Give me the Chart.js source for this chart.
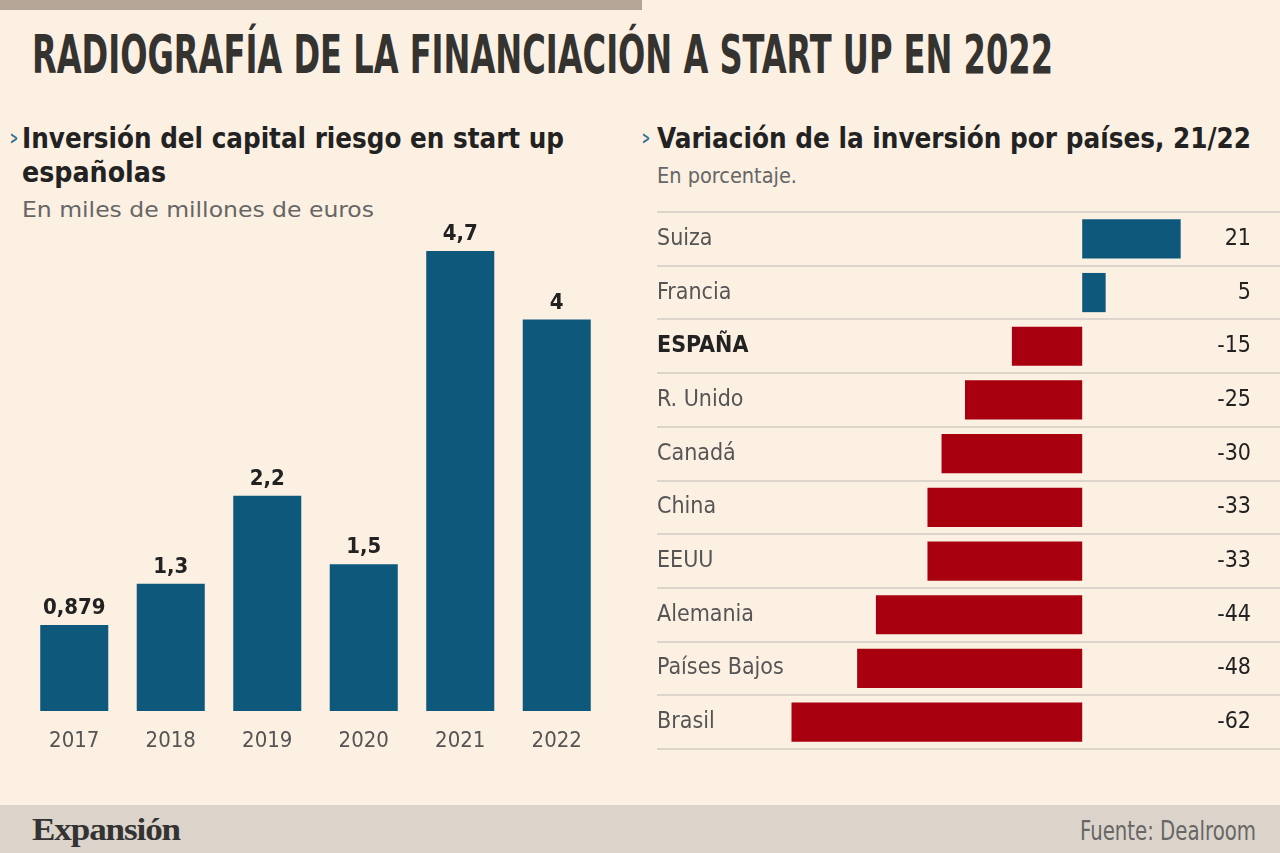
<!DOCTYPE html>
<html>
<head>
<meta charset="utf-8">
<script src="https://cdn.jsdelivr.net/npm/chart.js"></script>
<style>
  html, body { margin: 0; padding: 0; }
  body { width: 1280px; height: 853px; background: #fcf0e3; position: relative; overflow: hidden;
         font-family: 'Liberation Sans Narrow', 'DejaVu Sans Condensed', 'Roboto', sans-serif; }
  .t { position: absolute; white-space: nowrap; line-height: 1; transform-origin: 0 0; }
  #topbar { position: absolute; left: 0; top: 0; width: 642px; height: 10px; background: #b4a597; }
  #footer { position: absolute; left: 0; top: 805px; width: 1280px; height: 48px; background: #dcd4ca; }
  canvas { position: absolute; }
</style>
</head>
<body>
<div id="topbar"></div>

<div class="t" data-w="1021" style="left:32px; top:28px; font-size:53px; font-weight:bold; color:#353330;">RADIOGRAFÍA DE LA FINANCIACIÓN A START UP EN 2022</div>

<div class="t" data-w="8" style="left:10px; top:130px; font-size:17px; font-weight:bold; color:#2e6d92;">&gt;</div>
<div class="t" data-w="542" style="left:22px; top:125px; font-size:28px; font-weight:bold; color:#222;">Inversión del capital riesgo en start up</div>
<div class="t" data-w="144" style="left:22px; top:159px; font-size:28px; font-weight:bold; color:#222;">españolas</div>
<div class="t" data-w="352" style="left:22px; top:199px; font-size:22px; color:#666;">En miles de millones de euros</div>

<div class="t" data-w="8" style="left:642px; top:130px; font-size:17px; font-weight:bold; color:#2e6d92;">&gt;</div>
<div class="t" data-w="594" style="left:657px; top:125px; font-size:28px; font-weight:bold; color:#222;">Variación de la inversión por países, 21/22</div>
<div class="t" data-w="140" style="left:657px; top:165px; font-size:22px; color:#666;">En porcentaje.</div>

<canvas id="leftChart" width="640" height="570" style="left:0; top:200px;"></canvas>
<canvas id="rightChart" width="640" height="560" style="left:640px; top:200px;"></canvas>

<div id="footer"></div>
<div class="t" data-w="148" style="left:32px; top:813px; font-size:32px; font-weight:bold; color:#333; font-family:'Liberation Serif','DejaVu Serif',serif; letter-spacing:-1px;">Expansión</div>
<div class="t" data-w="176" style="left:1080px; top:818px; font-size:26px; color:#666;">Fuente: Dealroom</div>

<script>
// datos
var years = ["2017", "2018", "2019", "2020", "2021", "2022"];
var investment = [0.879, 1.3, 2.2, 1.5, 4.7, 4];
var investmentLabels = ["0,879", "1,3", "2,2", "1,5", "4,7", "4"];

var countries = ["Suiza", "Francia", "ESPAÑA", "R. Unido", "Canadá", "China", "EEUU", "Alemania", "Países Bajos", "Brasil"];
var change = [21, 5, -15, -25, -30, -33, -33, -44, -48, -62];

var FONT = "'Liberation Sans Narrow', 'DejaVu Sans Condensed', 'Roboto', sans-serif";
var BLUE = "#0d587b";
var RED = "#a8000f";

// squeeze the html titles to the widths of the original
document.querySelectorAll("[data-w]").forEach(function (el) {
  var w = el.getBoundingClientRect().width;
  el.style.transform = "scaleX(" + (el.dataset.w / w) + ")";
});

var barValueLabels = {
  id: "barValueLabels",
  afterDatasetsDraw: function (chart) {
    var ctx = chart.ctx;
    var meta = chart.getDatasetMeta(0);
    ctx.save();
    ctx.font = "bold 22px " + FONT;
    ctx.fillStyle = "#222";
    ctx.textAlign = "center";
    ctx.textBaseline = "alphabetic";
    meta.data.forEach(function (bar, i) {
      ctx.fillText(investmentLabels[i], bar.x, bar.y - 11);
    });
    ctx.restore();
  }
};

new Chart(document.getElementById("leftChart"), {
  type: "bar",
  data: {
    labels: years,
    datasets: [{
      data: investment,
      backgroundColor: BLUE,
      barPercentage: 0.705,
      categoryPercentage: 1
    }]
  },
  options: {
    responsive: false,
    animation: false,
    layout: { padding: { top: 51, left: 26, right: 35, bottom: 0 } },
    plugins: { legend: { display: false }, tooltip: { enabled: false } },
    scales: {
      x: {
        grid: { display: false, drawTicks: false },
        border: { display: false },
        ticks: { color: "#555", font: { family: FONT, size: 22 }, padding: 17 },
        afterFit: function (s) { s.height = 59; }
      },
      y: { display: false, min: 0, max: 4.7 }
    }
  },
  plugins: [barValueLabels]
});

var rowLines = {
  id: "rowLines",
  beforeDatasetsDraw: function (chart) {
    var ctx = chart.ctx;
    var y = chart.scales.y;
    var step = y.getPixelForValue(1) - y.getPixelForValue(0);
    ctx.save();
    ctx.strokeStyle = "#ddd5cb";
    ctx.lineWidth = 2;
    for (var i = 0; i <= countries.length; i++) {
      var py = Math.round(y.getPixelForValue(i) - step / 2);
      ctx.beginPath();
      ctx.moveTo(17, py);
      ctx.lineTo(chart.width, py);
      ctx.stroke();
    }
    ctx.restore();
  },
  afterDatasetsDraw: function (chart) {
    var ctx = chart.ctx;
    var meta = chart.getDatasetMeta(0);
    ctx.save();
    ctx.font = "23px " + FONT;
    ctx.fillStyle = "#222";
    ctx.textAlign = "right";
    ctx.textBaseline = "middle";
    meta.data.forEach(function (bar, i) {
      ctx.fillText(String(change[i]), chart.chartArea.right, bar.y);
    });
    ctx.restore();
  }
};

new Chart(document.getElementById("rightChart"), {
  type: "bar",
  data: {
    labels: countries,
    datasets: [{
      data: change,
      backgroundColor: function (c) { return c.raw >= 0 ? BLUE : RED; },
      barPercentage: 0.73,
      categoryPercentage: 1
    }]
  },
  options: {
    indexAxis: "y",
    responsive: false,
    animation: false,
    layout: { padding: { top: 12, left: 17, right: 29, bottom: 11 } },
    plugins: { legend: { display: false }, tooltip: { enabled: false } },
    scales: {
      x: { display: false, min: -70, max: 36 },
      y: {
        grid: { display: false, drawTicks: false },
        border: { display: false },
        ticks: {
          mirror: true,
          padding: -97,
          color: function (c) { return countries[c.index] === "ESPAÑA" ? "#222" : "#555"; },
          font: function (c) {
            return { family: FONT, size: 23, weight: countries[c.index] === "ESPAÑA" ? "bold" : "normal" };
          }
        },
        afterFit: function (s) {
          s.width = 97;
          s.paddingTop = 0;
          s.paddingBottom = 0;
        }
      }
    }
  },
  plugins: [rowLines]
});
</script>
</body>
</html>
